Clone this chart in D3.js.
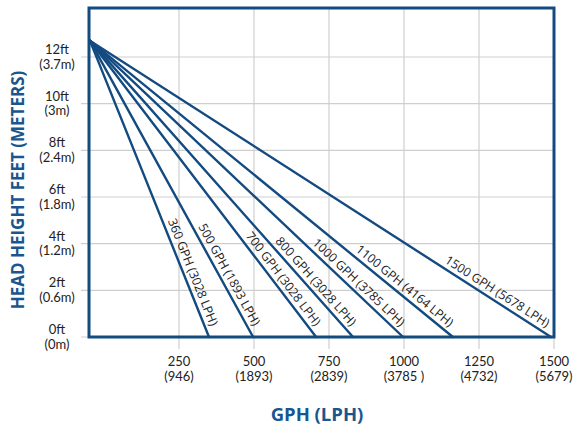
<!DOCTYPE html>
<html>
<head>
<meta charset="utf-8">
<script src="https://cdn.jsdelivr.net/npm/d3@7"></script>
<style>
  html, body { margin: 0; padding: 0; background: #ffffff; }
  svg { display: block; }
</style>
</head>
<body>
<svg id="chart" width="575" height="430"></svg>
<script>
// ---- data ----
const flowGPH   = [360, 500, 700, 800, 1000, 1100, 1500];          // pump ratings
const flowEnd   = [350, 497, 707, 830, 997, 1163, 1490];           // x where each line hits 0 ft
const lineLabels = ["360 GPH (3028 LPH)", "500 GPH (1893 LPH)", "700 GPH (3028 LPH)",
                    "800 GPH (3028 LPH)", "1000 GPH (3785 LPH)", "1100 GPH (4164 LPH)",
                    "1500 GPH (5678 LPH)"];
const maxHead = 12.7;        // ft, shut-off head shared by all lines
const startFlow = -47;       // line origin flow position
const xTicks = [250, 500, 750, 1000, 1250, 1500];
const xTickLPH = ["(946)", "(1893)", "(2839)", "(3785 )", "(4732)", "(5679)"];
const yTicks = [0, 2, 4, 6, 8, 10, 12];
const yTickFt = ["0ft", "2ft", "4ft", "6ft", "8ft", "10ft", "12ft"];
const yTickM  = ["(0m)", "(0.6m)", "(1.2m)", "(1.8m)", "(2.4m)", "(3m)", "(3.7m)"];

// ---- layout ----
const blue = "#134b81";
const titleBlue = "#19568f";
const grid = "#cfcfcf";
const textCol = "#222222";
const font = "'Open Sans', 'DejaVu Sans', sans-serif";
const tickFont = "Lato, 'Open Sans', sans-serif";

const svg = d3.select("#chart");
const x = d3.scaleLinear().domain([-50, 1500]).range([89, 554]);
const y = d3.scaleLinear().domain([0, 14.1]).range([337, 8]);

// gridlines
svg.append("g").selectAll("line.v").data(xTicks).join("line")
  .attr("x1", d => x(d)).attr("x2", d => x(d))
  .attr("y1", y(14.1)).attr("y2", y(0) + 12)
  .attr("stroke", grid).attr("stroke-width", 1.2);
svg.append("g").selectAll("line.h").data(yTicks).join("line")
  .attr("x1", x(-50) - 8).attr("x2", x(1500))
  .attr("y1", d => y(d)).attr("y2", d => y(d))
  .attr("stroke", grid).attr("stroke-width", 1.2);

// x tick labels (two lines each)
const xl = svg.append("g").attr("font-family", tickFont).attr("font-size", 13).attr("fill", textCol)
  .attr("text-anchor", "middle");
xl.selectAll("text.a").data(xTicks).join("text").attr("class", "a")
  .attr("x", d => x(d)).attr("y", y(0) + 29).text(d => d);
xl.selectAll("text.b").data(xTicks).join("text").attr("class", "b")
  .attr("x", d => x(d)).attr("y", y(0) + 44).text((d, i) => xTickLPH[i]);

// y tick labels (two lines each)
const yl = svg.append("g").attr("font-family", tickFont).attr("font-size", 13).attr("fill", textCol)
  .attr("text-anchor", "middle");
yl.selectAll("text.a").data(yTicks).join("text").attr("class", "a")
  .attr("x", 57).attr("y", d => y(d) - 3).text((d, i) => yTickFt[i]);
yl.selectAll("text.b").data(yTicks).join("text").attr("class", "b")
  .attr("x", 57).attr("y", d => y(d) + 11.5).text((d, i) => yTickM[i]);

// pump lines
const lines = flowGPH.map((g, i) => ({
  x1: x(startFlow), y1: y(maxHead), x2: x(flowEnd[i]), y2: y(0), label: lineLabels[i]
}));
svg.append("g").selectAll("line").data(lines).join("line")
  .attr("x1", d => d.x1).attr("y1", d => d.y1)
  .attr("x2", d => d.x2).attr("y2", d => d.y2)
  .attr("stroke", blue).attr("stroke-width", 2.4).attr("stroke-linecap", "round");

// line labels
svg.append("g").selectAll("text").data(lines).join("text")
  .attr("font-family", font).attr("font-size", 12.3).attr("fill", textCol)
  .attr("text-anchor", "end")
  .attr("transform", d => {
    const dx = d.x2 - d.x1, dy = d.y2 - d.y1, len = Math.hypot(dx, dy);
    const back = 9;
    const px = d.x2 - dx / len * back, py = d.y2 - dy / len * back;
    const ang = Math.atan2(dy, dx) * 180 / Math.PI;
    return `translate(${px},${py}) rotate(${ang})`;
  })
  .attr("dy", -5)
  .text(d => d.label);

// frame
svg.append("rect")
  .attr("x", x(-50)).attr("y", y(14.1))
  .attr("width", x(1500) - x(-50)).attr("height", y(0) - y(14.1))
  .attr("fill", "none").attr("stroke", blue).attr("stroke-width", 3);

// axis titles
svg.append("text")
  .attr("transform", `translate(24, 190) rotate(-90)`)
  .attr("text-anchor", "middle").attr("font-family", font).attr("font-weight", "bold")
  .attr("font-size", 17).attr("fill", titleBlue)
  .text("HEAD HEIGHT FEET (METERS)");
svg.append("text")
  .attr("x", 317).attr("y", 421)
  .attr("text-anchor", "middle").attr("font-family", font).attr("font-weight", "bold")
  .attr("font-size", 18.5).attr("fill", titleBlue)
  .text("GPH (LPH)");
</script>
</body>
</html>
